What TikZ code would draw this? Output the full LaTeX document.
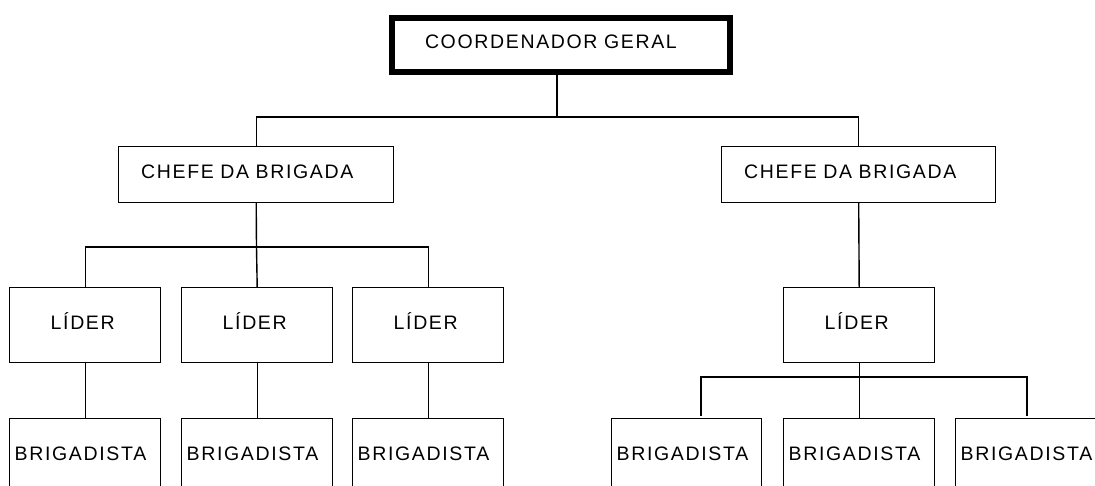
\documentclass[tikz,border=0pt]{standalone}
\usepackage{fontspec}
\newfontfamily\orgfont{Liberation Sans}[LetterSpace=8.5]
\begin{document}
\begin{tikzpicture}[x=1pt,y=-1pt,
  conn/.style={line width=1.4pt, line cap=rect},
  orgbox/.style={draw, line width=1.4pt, fill=white, anchor=north west, align=left,
    inner ysep=0pt, text height=14pt, text depth=5pt,
    font=\orgfont\fontsize{19.5}{22}\selectfont},
  topbox/.style={orgbox, line width=6pt, minimum height=54.5pt, text width=271pt,
    inner xsep=33.5pt, text depth=8pt},
  chefebox/.style={orgbox, minimum height=56pt, text width=230pt, inner xsep=22.5pt, text depth=6pt},
  liderbox/.style={orgbox, minimum height=75pt, text width=69pt, inner xsep=41pt},
  brigbox/.style={orgbox, minimum height=75pt, text width=141pt, inner xsep=5pt}
]
\fill[white] (0,0) rectangle (1095,486);
\clip (0,0) rectangle (1095,486);
% nodes
\node[topbox] (cg) at (388.5,15) {\mbox{COORDENADOR GERAL}};
\node[chefebox] (cL) at (118,146) {\mbox{CHEFE DA BRIGADA}};
\node[chefebox, text width=229pt] (cR) at (721,146) {\mbox{CHEFE DA BRIGADA}};
\node[liderbox] (l1) at (9,287) {\mbox{LÍDER}};
\node[liderbox] (l2) at (181,287) {\mbox{LÍDER}};
\node[liderbox] (l3) at (352,287) {\mbox{LÍDER}};
\node[liderbox] (lR) at (783,287) {\mbox{LÍDER}};
\node[brigbox] (b1) at (9,418) {\mbox{BRIGADISTA}};
\node[brigbox] (b2) at (181,418) {\mbox{BRIGADISTA}};
\node[brigbox] (b3) at (352,418) {\mbox{BRIGADISTA}};
\node[brigbox, text width=140pt] (bR1) at (611,418) {\mbox{BRIGADISTA}};
\node[brigbox] (bR2) at (783,418) {\mbox{BRIGADISTA}};
\node[brigbox] (bR3) at (955,418) {\mbox{BRIGADISTA}};
% junctions
\coordinate (j0) at (557,117);
\coordinate (jL) at (256.5,247);
\coordinate (jR) at (858,377);
% connectors
\draw[conn] (cg.south -| j0) -- (j0);
\draw[conn] (cL.north) |- (j0) -| (cR.north);
\draw[conn] (cL.south) -- (jL);
\draw[conn] (l1.north) |- (jL) -| (l3.north);
\draw[conn] (jL) -- (l2.north);
\draw[conn] (l1.south) -- (b1.north);
\draw[conn] (l2.south) -- (b2.north);
\draw[conn] (l3.south) -- (b3.north);
\draw[conn] (cR.south) -- (lR.north);
\draw[conn] (lR.south) -- (bR2.north);
\draw[conn] ([xshift=90pt,yshift=3pt]bR1.north west) |- (jR) -| ([xshift=72pt,yshift=3pt]bR3.north west);
\end{tikzpicture}
\end{document}
